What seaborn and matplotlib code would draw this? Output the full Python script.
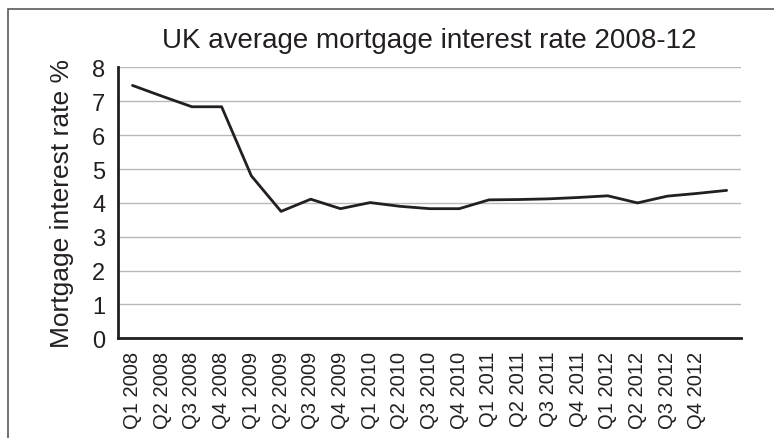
"""
UK average mortgage interest rate 2008-12, line chart
"""

# %% Imports
import seaborn as sns
import matplotlib.pyplot as plt
from matplotlib.patches import Rectangle
import pandas as pd

# %% Data
quarters = ['Q1 2008', 'Q2 2008', 'Q3 2008', 'Q4 2008',
            'Q1 2009', 'Q2 2009', 'Q3 2009', 'Q4 2009',
            'Q1 2010', 'Q2 2010', 'Q3 2010', 'Q4 2010',
            'Q1 2011', 'Q2 2011', 'Q3 2011', 'Q4 2011',
            'Q1 2012', 'Q2 2012', 'Q3 2012', 'Q4 2012']
# one more point than labels: the last one is plotted without a label
rates = [7.47, 7.15, 6.84, 6.84, 4.80, 3.75, 4.11, 3.83, 4.01, 3.90,
         3.83, 3.83, 4.09, 4.10, 4.12, 4.16, 4.21, 4.00, 4.20, 4.28, 4.37]
y_ticks = [0, 1, 2, 3, 4, 5, 6, 7, 8]

df = pd.DataFrame({'pos': range(len(rates)), 'rate': rates})

# %% Plot
sns.set_style('white')
plt.rcParams['font.family'] = ['Liberation Sans', 'DejaVu Sans']

fig = plt.figure(figsize=(7.74, 4.39), dpi=100)
ax = fig.add_axes([0.152, 0.227, 0.806, 0.617])

# outer frame (only left and top edges visible in the crop)
fig.patches.append(Rectangle((0.0103, -0.1), 1.1, 1.078, transform=fig.transFigure,
                             fill=False, edgecolor='#5a5a5a', linewidth=1.2))

ax.yaxis.grid(True, color='#b8b8b8', linewidth=1.0)
ax.set_axisbelow(True)
sns.lineplot(data=df, x='pos', y='rate', color='#231f20', linewidth=2.0, ax=ax)

ax.set_xlim(-0.5, len(rates) - 0.5)
ax.set_ylim(0, 8)
ax.set_yticks(y_ticks)
ax.set_xticks(range(len(quarters)))
ax.set_xticklabels(quarters, rotation=90, fontsize=14.5, color='#231f20')
ax.tick_params(axis='y', labelsize=17, length=0, pad=9, labelcolor='#231f20')
ax.tick_params(axis='x', length=0, pad=9)

ax.set_xlabel('')
ax.set_ylabel('Mortgage interest rate %', fontsize=19, color='#231f20', labelpad=13)
ax.set_title('UK average mortgage interest rate 2008-12', fontsize=20, color='#231f20', pad=15)

sns.despine(ax=ax)
for side in ['left', 'bottom']:
    ax.spines[side].set_color('#231f20')
    ax.spines[side].set_linewidth(2.0)

plt.savefig('out.png', dpi=100)
